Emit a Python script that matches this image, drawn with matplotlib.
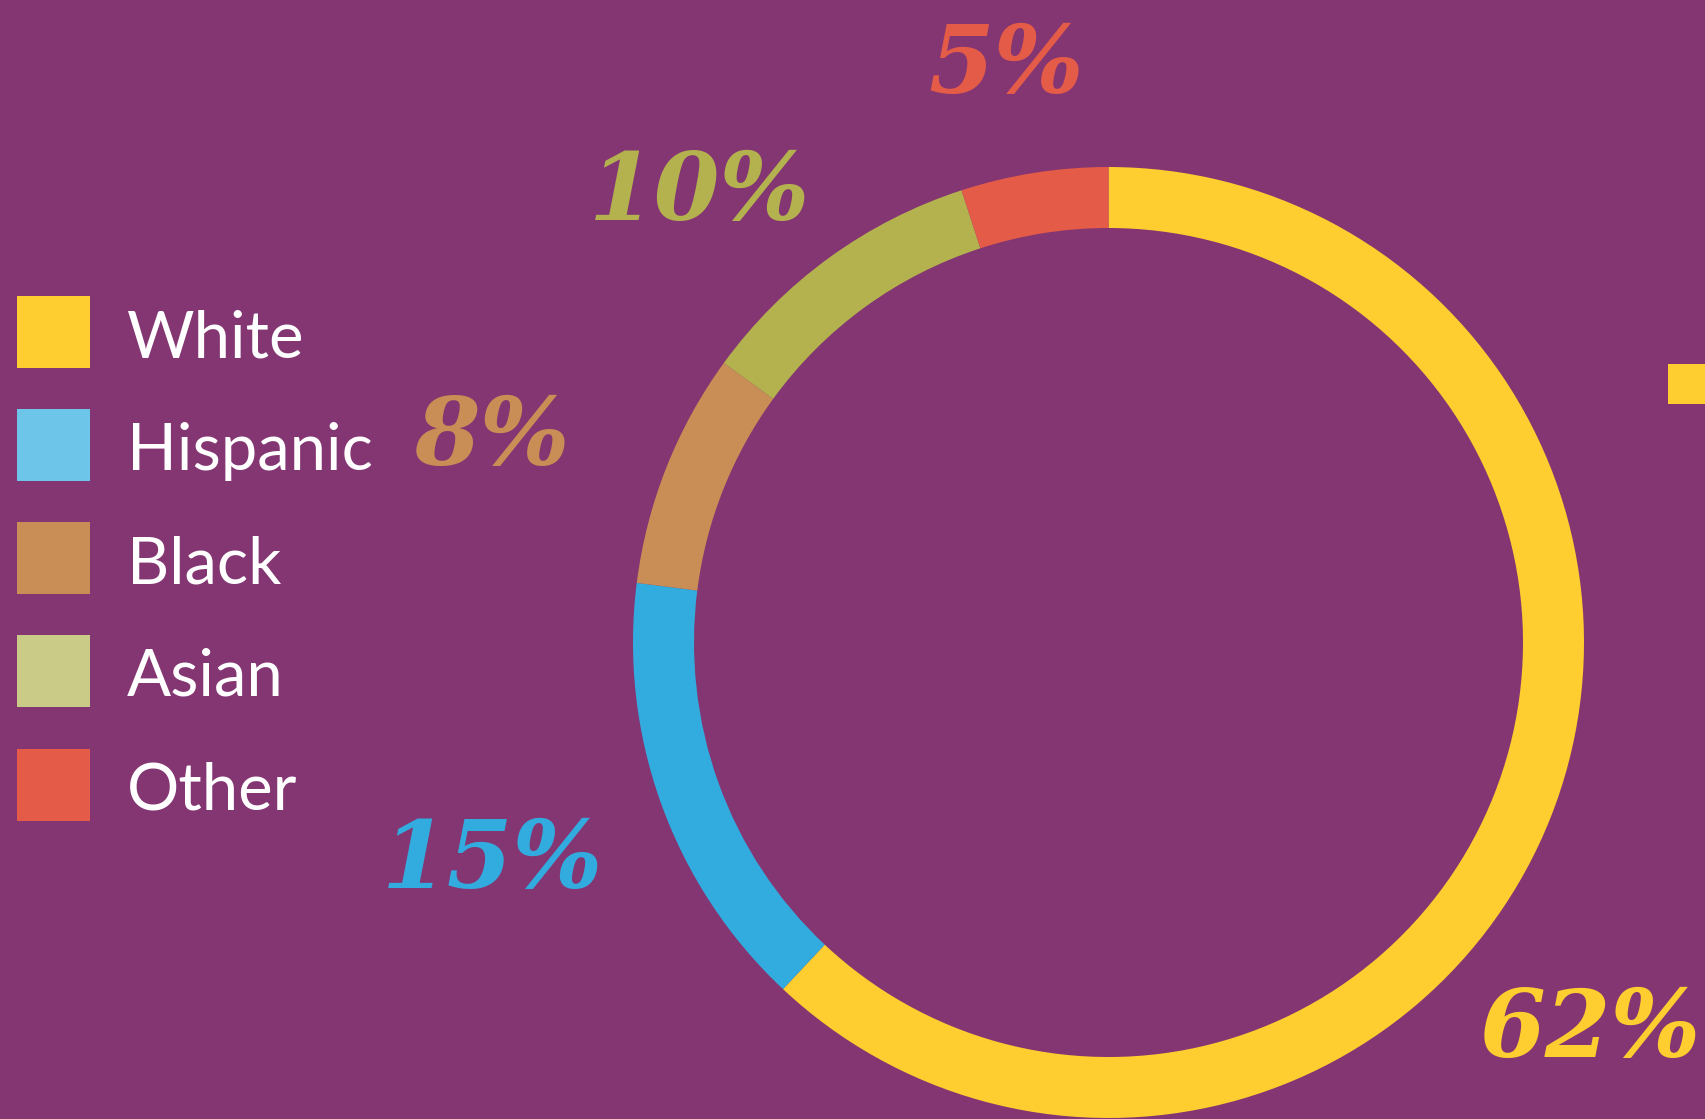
import matplotlib
matplotlib.use("Agg")
import matplotlib.pyplot as plt
from matplotlib.patches import Rectangle

# ---- data ----
categories = ["White", "Hispanic", "Black", "Asian", "Other"]
values = [62, 15, 8, 10, 5]
labels = ["62%", "15%", "8%", "10%", "5%"]
ring_colors = ["#FECD2F", "#32ACDF", "#C98E55", "#B3B24F", "#E45B48"]
legend_colors = ["#FECD2F", "#6EC5EA", "#C98E55", "#CACB87", "#E45B48"]

BG = "#843672"
W, H = 1706, 1119

fig = plt.figure(figsize=(W / 100, H / 100), dpi=100, facecolor=BG)
ax = fig.add_axes([0, 0, 1, 1])
ax.set_facecolor(BG)

def Y(py):
    return H - py

cx, cy, R, ring_w = 1108.5, Y(642.5), 475.5, 61
ax.pie(values, colors=ring_colors, startangle=90, counterclock=False,
       radius=R, center=(cx, cy), frame=True,
       wedgeprops=dict(width=ring_w, linewidth=0))

# percentage labels (pixel positions of their centers)
label_pos = {"62%": (1590, 1031), "15%": (492, 862), "8%": (492, 439),
             "10%": (699, 194), "5%": (1006, 67)}
for lab, col in zip(labels, ring_colors):
    px, py = label_pos[lab]
    ax.text(px, Y(py), lab, color=col, fontsize=68, family="DejaVu Serif",
            fontweight="bold", fontstyle="italic", ha="center", va="center")

# legend
sq_top = [296, 409, 522, 635, 749]
for cat, col, top in zip(categories, legend_colors, sq_top):
    ax.add_patch(Rectangle((17, Y(top + 72)), 73, 72, facecolor=col, edgecolor="none"))
    ax.text(127, Y(top + 61), cat, color="white", fontsize=47, family="Lato",
            fontweight="normal", ha="left", va="baseline")

# partial yellow marker cut off at the right edge
ax.add_patch(Rectangle((1668, Y(404)), 60, 40, facecolor="#FECD2F", edgecolor="none"))

ax.set_xlim(0, W)
ax.set_ylim(0, H)
ax.set_aspect("equal", adjustable="box")
ax.axis("off")

fig.savefig("out.png", dpi=100, facecolor=BG)
